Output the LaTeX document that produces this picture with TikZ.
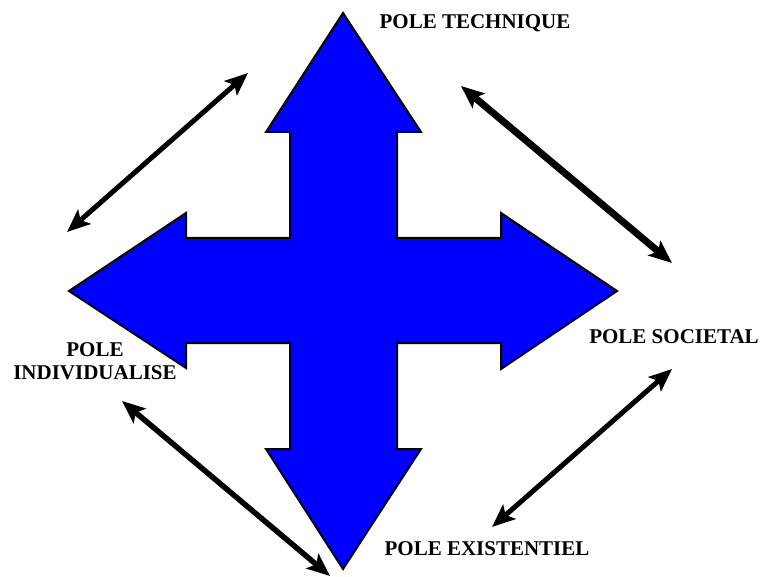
\documentclass[tikz,border=0pt]{standalone}
\usepackage{fontspec}
\setmainfont{Liberation Serif}
\usepackage{tikz}
\usetikzlibrary{arrows.meta}
\definecolor{crossblue}{RGB}{0, 0, 255}

\tikzset{
  pole/.style={font=\fontsize{21}{23}\selectfont\bfseries, inner sep=0pt, align=center},
  link/.style={{Stealth[length=23pt, width=19pt, inset=5pt]}-{Stealth[length=23pt, width=19pt, inset=5pt]}, line width=#1},
}

\begin{document}
\begin{tikzpicture}[x=1pt, y=-1pt]
      \useasboundingbox (0,0) rectangle (763,577);
      % the four-way arrow
      \filldraw[fill=crossblue, draw=black, line width=2pt, line join=miter]
        (343,13) -- (421,132) -- (397,132) -- (397,238) -- (501,238) -- (501,213)
        -- (617,291) -- (501,369) -- (501,343) -- (397,343) -- (397,449)
        -- (421,449) -- (343,569) -- (266,449) -- (290,449) -- (290,343)
        -- (186,343) -- (186,368) -- (69,291) -- (186,213) -- (186,238)
        -- (290,238) -- (290,132) -- (266,132) -- cycle;
      % labels
      \node[pole, anchor=base] (tech) at (475,29) {POLE TECHNIQUE};
      \node[pole, anchor=base] (soc) at (674,344) {POLE SOCIETAL};
      \node[pole, anchor=base] (exist) at (487,555) {POLE EXISTENTIEL};
      \node[pole] (indiv) at (95,361) {POLE\\INDIVIDUALISE};
      % links between the poles
      \coordinate (tl1) at (67,232);   \coordinate (tl2) at (248,73);
      \coordinate (tr1) at (461,86);   \coordinate (tr2) at (672,263);
      \coordinate (br1) at (672,369);  \coordinate (br2) at (492,527);
      \coordinate (bl1) at (122,401);  \coordinate (bl2) at (330,576);
      \draw[link=5pt] (tl1) -- (tl2);
      \draw[link=7pt] (tr1) -- (tr2);
      \draw[link=5pt] (br1) -- (br2);
      \draw[link=5.5pt] (bl1) -- (bl2);
    \end{tikzpicture}
\end{document}
